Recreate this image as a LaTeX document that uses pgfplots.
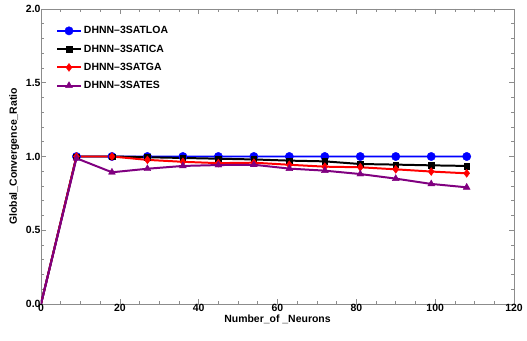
\documentclass[border=0pt]{standalone}
\usepackage{pgfplots}
\pgfplotsset{compat=1.18}
\usepackage{fontspec}
\setmainfont{Liberation Sans}
\definecolor{frm}{gray}{0.55}
\definecolor{mpurple}{rgb}{0.5,0,0.5}
\begin{document}
\begin{tikzpicture}[x=1bp,y=1bp]
\begin{axis}[
  scale only axis, width=473bp, height=295bp,
  xmin=0, xmax=120, ymin=0, ymax=2,
  xtick={0,20,...,120}, ytick={0,0.5,1,1.5,2},
  minor x tick num=3, minor y tick num=4,
  yticklabel style={/pgf/number format/fixed,/pgf/number format/fixed zerofill,/pgf/number format/precision=1, xshift=3bp},
  /pgf/number format/assume math mode=true,
  tick align=inside, tick style={frm, line width=0.6pt},
  major tick length=5bp, minor tick length=3bp,
  axis line style={frm, line width=0.8pt},
  ticklabel style={font=\fontsize{10.5}{11}\selectfont\bfseries},
  xticklabel style={yshift=3bp},
  xlabel={Number\_of \_Neurons}, ylabel={Global\_Convergence\_Ratio},
  label style={font=\fontsize{10.5}{11}\selectfont\bfseries},
  xlabel style={yshift=4bp}, ylabel style={yshift=0bp},
  legend style={draw=none, fill=none, at={(0.025,0.955)}, anchor=north west,
    font=\fontsize{10.5}{12}\selectfont\bfseries, row sep=5.5bp},
  legend cell align=left,
  legend image code/.code={\draw[#1] (0bp,0bp) -- (24bp,0bp); \draw[#1,only marks,mark indices={1}] plot coordinates {(12bp,0bp)};},
  clip=true,
  every axis plot/.append style={line width=2pt, mark indices={2,...,13}},
]
\addplot[blue, mark=*, mark size=4.2pt, mark options={solid, line width=0.4pt}] coordinates {
(0,0) (9,1) (18,1) (27,1) (36,1) (45,1) (54,1) (63,1) (72,1) (81,1) (90,1) (99,1) (108,1)};
\addlegendentry{DHNN--3SATLOA}
\addplot[black, mark=square*, mark size=2.8pt, mark options={solid, line width=0.4pt}] coordinates {
(0,0) (9,1) (18,1) (27,0.995) (36,0.99) (45,0.985) (54,0.98) (63,0.972) (72,0.967) (81,0.949) (90,0.945) (99,0.940) (108,0.936)};
\addlegendentry{DHNN--3SATICA}
\addplot[red, mark=diamond*, mark size=4pt, mark options={solid, line width=0.4pt}] coordinates {
(0,0) (9,1) (18,1) (27,0.977) (36,0.964) (45,0.955) (54,0.958) (63,0.944) (72,0.931) (81,0.927) (90,0.913) (99,0.898) (108,0.886)};
\addlegendentry{DHNN--3SATGA}
\addplot[mpurple, mark=triangle*, mark size=4pt, mark options={solid, line width=0.4pt}] coordinates {
(0,0) (9,0.988) (18,0.893) (27,0.917) (36,0.936) (45,0.942) (54,0.944) (63,0.918) (72,0.904) (81,0.881) (90,0.85) (99,0.814) (108,0.791)};
\addlegendentry{DHNN--3SATES}
\end{axis}
\path[use as bounding box] (-41bp,-37bp) rectangle (486bp,304bp);
\end{tikzpicture}
\end{document}
